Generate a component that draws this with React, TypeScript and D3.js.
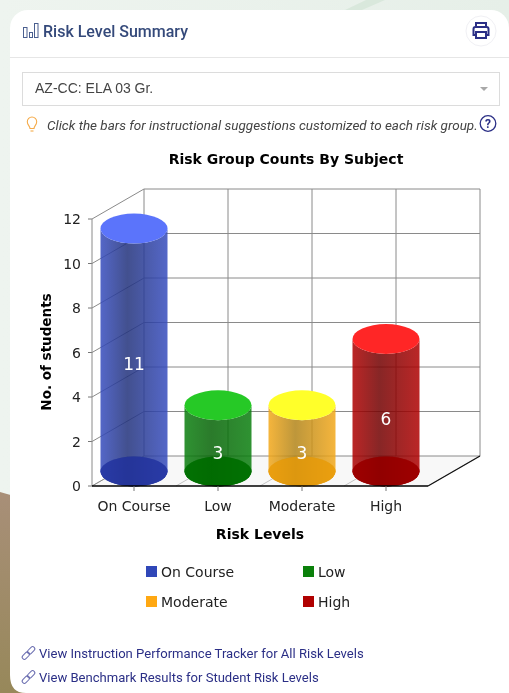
import * as d3 from 'd3'

const categories = ['On Course', 'Low', 'Moderate', 'High']
const counts = [11, 3, 3, 6]
const yTicks = [0, 2, 4, 6, 8, 10, 12]
const legendLabels = ['On Course', 'Low', 'Moderate', 'High']
const links = [
  'View Instruction Performance Tracker for All Risk Levels',
  'View Benchmark Results for Student Risk Levels'
]

const edgeColors = ['#364cbe', '#0a7f0e', '#f3a81a', '#af0000']
const midColors = ['#21317b', '#056305', '#b28418', '#720000']
const topColors = ['#5b74fb', '#26c926', '#ffff2a', '#ff2626']
const bottomColors = ['#2536a0', '#006e00', '#e89c0c', '#990000']
const legendColors = ['#3047b8', '#0a800a', '#ffa812', '#b00000']

const chartFont = '"DejaVu Sans", sans-serif'
const uiFont = 'Roboto, sans-serif'
const navy = '#2b2f86'

const depthX = 52
const depthY = -30
const rx = 33.5
const ry = 15

const x = d3.scaleBand<string>().domain(categories).range([92, 428])
const y = d3.scaleLinear().domain([0, 12]).range([486, 219])
// cylinders stand mid way into the floor
const barY = d3.scaleLinear().domain([0, 12]).range([471.5, 206.5])
const xEdges = d3.range(categories.length + 1).map(i => 92 + i * x.bandwidth())

function Cylinder({ i }: { i: number }) {
  const cx = (x(categories[i]) as number) + x.bandwidth() / 2
  const base = barY(0)
  const top = barY(counts[i])
  return (
    <g>
      <ellipse cx={cx} cy={base} rx={rx} ry={ry} fill={bottomColors[i]} opacity={0.92} />
      <path
        d={`M${cx - rx},${top}L${cx - rx},${base}A${rx},${ry} 0 0 0 ${cx + rx},${base}L${cx + rx},${top}A${rx},${ry} 0 0 1 ${cx - rx},${top}Z`}
        fill={`url(#body${i})`}
      />
      <ellipse cx={cx} cy={base} rx={rx} ry={ry} fill={bottomColors[i]} opacity={0.75} />
      <ellipse cx={cx} cy={top} rx={rx} ry={ry} fill={topColors[i]} />
      <text
        x={cx}
        y={y(counts[i] / 2) + 6}
        textAnchor="middle"
        fontFamily={chartFont}
        fontSize={17}
        fill="#fff"
      >
        {counts[i]}
      </text>
    </g>
  )
}

function LinkIcon({ px, py }: { px: number; py: number }) {
  return (
    <g transform={`translate(${px},${py}) rotate(-45)`} fill="none" stroke="#6a6db0" strokeWidth={1}>
      <rect x={-8} y={-2.2} width={8.5} height={4.4} rx={2.2} />
      <rect x={-0.5} y={-2.2} width={8.5} height={4.4} rx={2.2} />
    </g>
  )
}

export default function App() {
  const wallLine = '#8a8a8a'
  return (
    <svg
      width={509}
      height={693}
      style={{ position: 'absolute', left: 0, top: 0, filter: 'blur(0.3px)' }}
      xmlns="http://www.w3.org/2000/svg"
    >
      <defs>
        <linearGradient id="bg" x1="0" y1="0" x2="1" y2="0">
          <stop offset="0" stopColor="#eef4ef" />
          <stop offset="1" stopColor="#e6efe8" />
        </linearGradient>
        <linearGradient id="brown" x1="0" y1="0" x2="0" y2="1">
          <stop offset="0" stopColor="#a88f78" />
          <stop offset="1" stopColor="#97885a" />
        </linearGradient>
        {categories.map((c, i) => (
          <linearGradient key={c} id={`body${i}`} x1="0" y1="0" x2="1" y2="0">
            <stop offset="0" stopColor={edgeColors[i]} stopOpacity={0.85} />
            <stop offset="0.4" stopColor={midColors[i]} stopOpacity={0.85} />
            <stop offset="1" stopColor={edgeColors[i]} stopOpacity={0.85} />
          </linearGradient>
        ))}
      </defs>

      <rect width={509} height={693} fill="url(#bg)" />
      <path d="M345,10L366,0L385,0L362,10Z" fill="#d9e8dc" />
      <path d="M0,492L14,496L14,693L0,693Z" fill="url(#brown)" />

      <path d="M10,693V28A18,18 0 0 1 28,10H491A18,18 0 0 1 509,28V693Z" fill="#fff" />
      <path d="M10,675Q10,693 26,693H10Z" fill="#97885a" />

      {/* header */}
      <g fill="none" stroke="#4a5f8f" strokeWidth={1}>
        <rect x={23.5} y={27.5} width={3.5} height={10} />
        <rect x={29.5} y={32.5} width={3} height={5} />
        <rect x={34.5} y={23.5} width={3.5} height={14} />
      </g>
      <text x={43} y={37} fontFamily={uiFont} fontWeight={500} fontSize={16} fill="#34497a">
        Risk Level Summary
      </text>
      <circle cx={481} cy={31} r={15} fill="#fff" stroke="#f0f0f4" />
      <g fill="none" stroke={navy} strokeWidth={2}>
        <path d="M476,28v-5h10v5" />
        <path d="M476,35h-2.5v-6a2,2 0 0 1 2,-2h11a2,2 0 0 1 2,2v6h-2.5" />
        <rect x={476} y={32} width={10} height={6} />
      </g>
      <line x1={10} x2={509} y1={57.5} y2={57.5} stroke="#e6e6e6" />

      {/* subject select */}
      <rect x={22.5} y={72.5} width={477} height={33} fill="#fff" stroke="#dcdcdc" />
      <text x={35} y={93} fontFamily='"Liberation Sans", sans-serif' fontSize={14} fill="#444">
        AZ-CC: ELA 03 Gr.
      </text>
      <path d="M480,87h8l-4,4Z" fill="#a8a8a8" />

      {/* hint */}
      <g fill="none" stroke="#f5ab4a" strokeWidth={1.1}>
        <path d="M30,128.5c0,-2.5 -2.7,-3.5 -2.7,-6.8a4.7,4.7 0 0 1 9.4,0c0,3.3 -2.7,4.3 -2.7,6.8Z" />
        <path d="M30.5,131h3" />
      </g>
      <text x={47} y={130} fontFamily={uiFont} fontStyle="italic" fontSize={13.47} fill="#444">
        Click the bars for instructional suggestions customized to each risk group.
      </text>
      <circle cx={488} cy={123.5} r={7.8} fill="#fff" stroke={navy} strokeWidth={1.3} />
      <text x={488} y={128} textAnchor="middle" fontFamily={uiFont} fontWeight={700} fontSize={12} fill={navy}>
        ?
      </text>

      <text x={286} y={164} textAnchor="middle" fontFamily={chartFont} fontWeight={700} fontSize={14} fill="#000">
        Risk Group Counts By Subject
      </text>

      {/* walls and floor */}
      <path
        d={`M92,${y(0)}L428,${y(0)}L${428 + depthX},${y(0) + depthY}L${92 + depthX},${y(0) + depthY}Z`}
        fill="#f8f8f8"
      />
      {xEdges.map(ex => (
        <g key={ex}>
          <line x1={ex} y1={y(0)} x2={ex + depthX} y2={y(0) + depthY} stroke="#c4c4c4" />
          <line x1={ex + depthX} y1={y(12) + depthY} x2={ex + depthX} y2={y(0) + depthY} stroke={wallLine} />
        </g>
      ))}
      {yTicks.map(t => (
        <g key={t}>
          <line x1={88} y1={y(t)} x2={92} y2={y(t)} stroke="#777" />
          <line x1={92} y1={y(t)} x2={92 + depthX} y2={y(t) + depthY} stroke={wallLine} />
          <line x1={92 + depthX} y1={y(t) + depthY} x2={480} y2={y(t) + depthY} stroke={wallLine} />
          <text x={81} y={y(t) + 5} textAnchor="end" fontFamily={chartFont} fontSize={14} fill="#222">
            {t}
          </text>
        </g>
      ))}
      <line x1={92} y1={y(12)} x2={92} y2={y(0)} stroke={wallLine} />
      <line x1={428} y1={y(0)} x2={428 + depthX} y2={y(0) + depthY} stroke="#111" strokeWidth={1.2} />

      {categories.map((c, i) => (
        <Cylinder key={c} i={i} />
      ))}

      <line x1={92} y1={y(0)} x2={428} y2={y(0)} stroke="#000" strokeWidth={1.6} />
      {categories.map(c => {
        const cx = (x(c) as number) + x.bandwidth() / 2
        return (
          <g key={c}>
            <line x1={cx} y1={y(0)} x2={cx} y2={y(0) + 5} stroke="#777" />
            <text x={cx} y={511} textAnchor="middle" fontFamily={chartFont} fontSize={14} fill="#222">
              {c}
            </text>
          </g>
        )
      })}

      <text x={260} y={539} textAnchor="middle" fontFamily={chartFont} fontWeight={700} fontSize={14} fill="#000">
        Risk Levels
      </text>
      <text
        transform="translate(51,352) rotate(-90)"
        textAnchor="middle"
        fontFamily={chartFont}
        fontWeight={700}
        fontSize={13.5}
        fill="#000"
      >
        No. of students
      </text>

      {/* legend */}
      {legendLabels.map((l, i) => {
        const lx = i % 2 === 0 ? 146 : 303
        const ly = i < 2 ? 566 : 596
        return (
          <g key={l}>
            <rect x={lx} y={ly} width={11} height={11} fill={legendColors[i]} />
            <text x={lx + 15} y={ly + 11} fontFamily={chartFont} fontSize={14} fill="#222">
              {l}
            </text>
          </g>
        )
      })}

      {/* links */}
      {links.map((l, i) => (
        <g key={l}>
          <LinkIcon px={28.5} py={653 + i * 24} />
          <text x={39} y={658 + i * 24} fontFamily={uiFont} fontSize={13.07} fill={navy}>
            {l}
          </text>
        </g>
      ))}
    </svg>
  )
}
